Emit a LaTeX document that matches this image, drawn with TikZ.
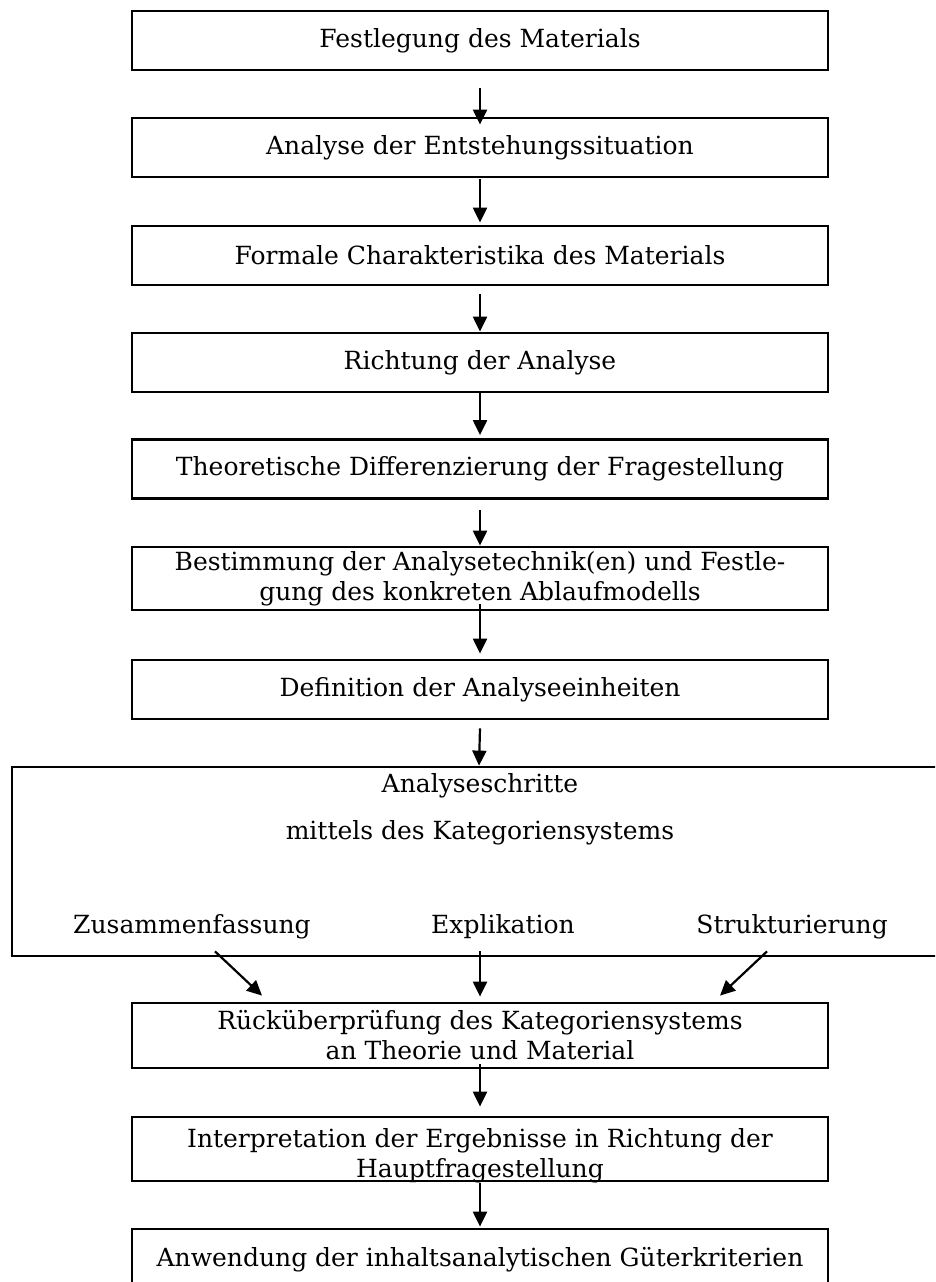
\documentclass[tikz,border=0pt]{standalone}
\usepackage{fontspec}
\setmainfont{DejaVu Serif}
\usetikzlibrary{arrows.meta}
\begin{document}
\begin{tikzpicture}[x=1pt,y=-1pt,
  txt/.style={font=\fontsize{25}{30}\selectfont},
  stepbox/.style={draw, line width=2.8pt, minimum width=696pt, minimum height=59pt,
    inner sep=0pt, align=center, txt},
  lbl/.style={inner sep=0pt, txt},
  arr/.style={line width=2.2pt, -{Triangle[length=15pt,width=14pt]}}]
\clip (0,0) rectangle (935,1282);
\fill[white] (0,0) rectangle (935,1282);

% main sequence of steps
\node[stepbox] (b1) at (480,40.5) {Festlegung des Materials};
\node[stepbox] (b2) at (480,147.5) {Analyse der Entstehungssituation};
\node[stepbox] (b3) at (480,255.5) {Formale Charakteristika des Materials};
\node[stepbox] (b4) at (480,362.5) {Richtung der Analyse};
\node[stepbox] (b5) at (480,469) {Theoretische Differenzierung der Fragestellung};
\node[stepbox, minimum height=63pt] (b6) at (480,578.5)
  {Bestimmung der Analysetechnik(en) und Festle-\\gung des konkreten Ablaufmodells};
\node[stepbox] (b7) at (480,689.5) {Definition der Analyseeinheiten};

% wide box with the three kinds of analysis
\node[stepbox, minimum width=934pt, minimum height=189pt] (ks) at (479,861.5) {};
\node[lbl] (t1) at (480,786) {Analyseschritte};
\node[lbl] (t2) at (480,833) {mittels des Kategoriensystems};
\node[lbl, anchor=west] (zs) at (73,927) {Zusammenfassung};
\node[lbl] (ex) at (503,927) {Explikation};
\node[lbl, anchor=east] (st) at (888,927) {Strukturierung};

\node[stepbox, minimum height=65pt] (rk) at (480,1035.5)
  {Rücküberprüfung des Kategoriensystems\\an Theorie und Material};
\node[stepbox, minimum height=64pt, text height=56pt, text depth=0pt] (ip) at (480,1149)
  {Interpretation der Ergebnisse in Richtung der\\Hauptfragestellung};
\node[stepbox, minimum height=62pt] (an) at (480,1260)
  {Anwendung der inhaltsanalytischen Güterkriterien};

% connectors
\draw[arr] ([yshift=-17pt]b1.south) -- ([yshift=-8pt]b2.north);
\draw[arr] ([yshift=-1pt]b2.south) -- ([yshift=2pt]b3.north);
\draw[arr] ([yshift=-8pt]b3.south) -- (b4.north);
\draw[arr] (b4.south) -- ([yshift=3pt]b5.north);
\draw[arr] ([yshift=-10pt]b5.south) -- (b6.north);
\draw[arr] ([yshift=7pt]b6.south) -- ([yshift=5pt]b7.north);
\draw[arr] ([yshift=-8pt]b7.south) -- (ks.north);
\draw[arr] ([xshift=-264pt,yshift=6pt]ks.south) -- ([xshift=-218pt,yshift=6pt]rk.north);
\draw[arr] ([xshift=1pt,yshift=6pt]ks.south) -- ([yshift=5pt]rk.north);
\draw[arr] ([xshift=288pt,yshift=6pt]ks.south) -- ([xshift=240pt,yshift=6pt]rk.north);
\draw[arr] ([yshift=5pt]rk.south) -- ([yshift=9pt]ip.north);
\draw[arr] ([yshift=-1pt]ip.south) -- ([yshift=1pt]an.north);
\end{tikzpicture}
\end{document}
